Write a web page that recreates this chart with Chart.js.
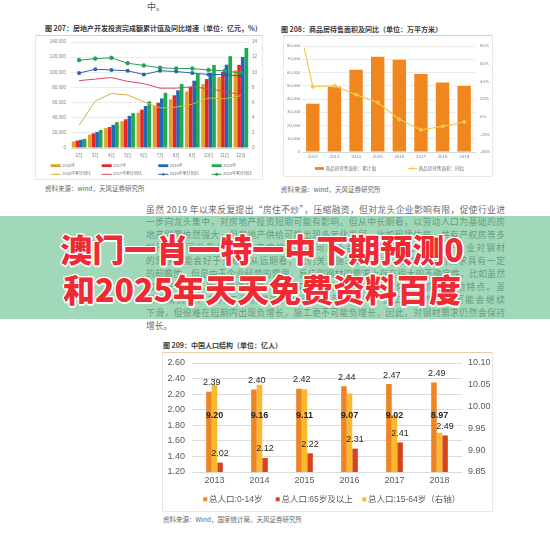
<!DOCTYPE html>
<html>
<head>
<meta charset="utf-8">
<script src="https://cdn.jsdelivr.net/npm/chart.js@4.4.1/dist/chart.umd.min.js"></script>
<style>
html, body { margin: 0; padding: 0; background: #fff; }
#page { position: relative; width: 550px; height: 536px; overflow: hidden; font-family: "Noto Sans CJK SC", sans-serif; color: #555; }
.abs { position: absolute; white-space: nowrap; }
.title { font-size: 7px; line-height: 8px; font-weight: bold; color: #3a3a3a; }
.src { font-size: 6.5px; line-height: 8px; color: #666; }
.frame { position: absolute; box-sizing: border-box; border: 1px solid #ece6dc; border-top: 1.5px solid #e8cfa6; }
.para { position: absolute; left: 146px; width: 359px; font-size: 8.8px; line-height: 12.9px; height: 12.9px; color: #6a6a6a; white-space: nowrap; }
#banner { position: absolute; left: 0; top: 216px; width: 550px; height: 103px; background: rgba(100, 190, 140, 0.6); }
.big { position: absolute; left: 0; width: 524px; text-align: center; font-size: 32px; line-height: 40px; font-weight: 900; color: #ef2a33; white-space: nowrap;
  text-shadow: 1px 1px 0 #fff, -1px -1px 0 #fff, 1px -1px 0 #fff, -1px 1px 0 #fff, 0 1.5px 0 #fff, 0 -1.5px 0 #fff, 1.5px 0 0 #fff, -1.5px 0 0 #fff; }
canvas { position: absolute; }
</style>
</head>
<body>
<div id="page">
  <div class="abs" style="left:147px;top:1px;font-size:9px;line-height:12px;color:#555;">中。</div>

  <div class="abs title" style="left:45px;top:24px;">图 207：房地产开发投资完成额累计值及同比增速（单位：亿元，%）</div>
  <div class="frame" style="left:35px;top:35px;width:228px;height:145px;"></div>
  <canvas id="c207" width="228" height="144" style="left:35px;top:36px;"></canvas>
  <div class="abs src" style="left:45px;top:184px;">资料来源：wind，天风证券研究所</div>

  <div class="abs title" style="left:281px;top:25px;">图 208：商品房待售面积及同比（单位：万平方米）</div>
  <div class="frame" style="left:283px;top:35px;width:210px;height:142px;"></div>
  <canvas id="c208" width="210" height="142" style="left:283px;top:36px;"></canvas>
  <div class="abs src" style="left:281px;top:185px;">资料来源：wind，天风证券研究所</div>

  <div class="para fit" style="top:203.5px;"><span>虽然 2019 年以来反复提出“房住不炒”，压缩融资，但对龙头企业影响有限，促使行业进</span></div>
  <div class="para fit" style="top:216.4px;"><span>一步向龙头集中，对房地产投资短期可能有影响。但从中长期看，以劳动人口为基础的房</span></div>
  <div class="para fit" style="top:229.3px;"><span>地产刚需依然强大，但房地产供给可能出现多元化发展，比如租赁住房、共有产权房等多</span></div>
  <div class="para fit" style="top:242.2px;"><span>样形式，因此我们认为未来房地产投资可能不会出现大幅下滑，房地产行业对钢材</span></div>
  <div class="para fit" style="top:255.1px;"><span>的需求可能会好于预期。从远期看，我们关注施工数据，施工数据对钢材需求具有一定</span></div>
  <div class="para fit" style="top:268px;"><span>的前瞻性，但是由于企业经营的需要，反应到钢材的需求上存在很大的不确定性。比如虽然</span></div>
  <div class="para fit" style="top:280.9px;"><span>房地产新开工面积增速较快，但施工面积增速相对平稳，体现出房企拿地特点。虽</span></div>
  <div class="para fit" style="top:293.8px;"><span>然未来房地产新开工面积增速将会逐步回落，房地产施工面积增速也可能会继续</span></div>
  <div class="para fit" style="top:306.7px;"><span>下滑，但很难在短期内出现负增长，施工更不可能负增长，因此，对钢材需求仍然会保持</span></div>
  <div class="para" style="top:319.6px;"><span>增长。</span></div>

  <div id="banner"></div>
  <div class="big" style="top:228px;">澳门一肖一特一中下期预测0</div>
  <div class="big" style="top:268px;">和2025年天天免费资料百度</div>

  <div class="abs title" style="left:163px;top:341px;">图 209：中国人口结构（单位：亿人）</div>
  <div class="frame" style="left:162px;top:352px;width:331px;height:160px;"></div>
  <canvas id="c209" width="331" height="159" style="left:162px;top:353px;"></canvas>
  <div class="abs src" style="left:163px;top:515px;">资料来源：Wind，国家统计局，天风证券研究所</div>
</div>

<script>
const FONT = "'Liberation Sans', 'Noto Sans CJK SC', sans-serif";

// 图207
const months = ["2月", "3月", "4月", "5月", "6月", "7月", "8月", "9月", "10月", "11月", "12月"];
const invest2016 = [8629, 17677, 26249, 35429, 46631, 55424, 64348, 74598, 84353, 93669, 102581];
const invest2017 = [9854, 19292, 27732, 37950, 50610, 59761, 69694, 80644, 91069, 100387, 109799];
const invest2018 = [10873, 21291, 30592, 42393, 55531, 65490, 76169, 88948, 99325, 110083, 120264];
const invest2019 = [12090, 23803, 34217, 46075, 61609, 72843, 84589, 98008, 109603, 121265, 132194];
const yoy2016 = [3.0, 6.2, 7.2, 7.0, 6.1, 5.3, 5.4, 5.8, 6.6, 6.5, 6.9];
const yoy2017 = [8.9, 9.1, 9.3, 8.8, 8.5, 7.9, 7.9, 8.1, 7.8, 7.5, 7.0];
const yoy2018 = [9.9, 10.4, 10.3, 10.2, 9.7, 10.2, 10.1, 9.9, 9.7, 9.7, 9.5];
const yoy2019 = [11.6, 11.8, 11.9, 11.2, 10.9, 10.6, 10.5, 10.5, 10.3, 10.2, 9.9];

// 图208
const years208 = ["2012", "2013", "2014", "2015", "2016", "2017", "2018", "2019"];
const unsoldArea = [36460, 49295, 62169, 71853, 69539, 58923, 52414, 49821];
const unsoldYoyPos = [-0.4, 0, 1, 2, 3, 4, 5, 6, 7];
const unsoldYoy = [78, 34, 35, 25, 16, -3, -15, -11, -6];

// 图209
const years209 = ["2013", "2014", "2015", "2016", "2017", "2018"];
const age0to14 = [2.23, 2.26, 2.27, 2.30, 2.33, 2.35];
const age15to64 = [10.05, 10.05, 10.04, 10.03, 9.98, 9.94];
const age65plus = [1.32, 1.38, 1.44, 1.50, 1.58, 1.67];
const topLabels = ["2.39", "2.40", "2.42", "2.44", "2.47", "2.49"];
const midLabels = ["9.20", "9.16", "9.11", "9.07", "9.02", "8.97"];
const lowLabels = ["2.02", "2.12", "2.22", "2.31", "2.41", "2.49"];

// stretch each body line so it fills the text column, like the justified page
document.querySelectorAll(".para.fit").forEach(function(el) {
	let span = el.firstElementChild;
	let w = span.getBoundingClientRect().width;
	let n = span.textContent.length;
	span.style.letterSpacing = ((el.clientWidth - w) / (n - 1)) + "px";
});

Chart.defaults.font.family = FONT;
Chart.defaults.animation = false;

function fitBox(size) {
	return function(scale) {
		if(scale.isHorizontal())
			scale.height = size;
		else
			scale.width = size;
		scale.paddingTop = 0;
		scale.paddingBottom = 0;
		scale.paddingLeft = 0;
		scale.paddingRight = 0;
	}
}

const gridLegend = {
	id: "gridLegend",
	afterDraw(chart, args, opts) {
		let ctx = chart.ctx;
		ctx.save();
		ctx.font = opts.fontSize + "px " + FONT;
		ctx.textBaseline = "middle";
		ctx.textAlign = "left";
		opts.order.forEach(function(idx, i) {
			let ds = chart.data.datasets[idx];
			let x = opts.cols[i % opts.cols.length];
			let y = opts.rows[Math.floor(i / opts.cols.length)];
			if(ds.type == "line") {
				ctx.strokeStyle = ds.borderColor;
				ctx.lineWidth = 1;
				ctx.beginPath();
				ctx.moveTo(x, y);
				ctx.lineTo(x + opts.boxW, y);
				ctx.stroke();
				if(ds.pointStyle) {
					ctx.fillStyle = ds.borderColor;
					Chart.helpers.drawPoint(ctx, {pointStyle: ds.pointStyle, radius: opts.marker, rotation: 0, borderWidth: 0}, x + opts.boxW / 2, y);
				}
			} else {
				ctx.fillStyle = ds.backgroundColor;
				ctx.fillRect(x, y - opts.boxH / 2, opts.boxW, opts.boxH);
			}
			ctx.fillStyle = opts.color;
			ctx.fillText(ds.label, x + opts.boxW + opts.gap, y);
		});
		ctx.restore();
	}
};

const barLabels = {
	id: "barLabels",
	afterDatasetsDraw(chart) {
		let ctx = chart.ctx;
		let orange = chart.getDatasetMeta(0).data;
		let yellow = chart.getDatasetMeta(1).data;
		let red = chart.getDatasetMeta(2).data;
		let midY = chart.scales.y.getPixelForValue(1.92);
		ctx.save();
		ctx.fillStyle = "#262626";
		ctx.textAlign = "center";
		ctx.textBaseline = "middle";
		for(let i=0; i<years209.length; i++) {
			ctx.font = "9px " + FONT;
			ctx.fillText(topLabels[i], yellow[i].x - yellow[i].width / 2, orange[i].y - 9);
			ctx.fillText(lowLabels[i], red[i].x, red[i].y - 9);
			ctx.font = "bold 9px " + FONT;
			ctx.fillText(midLabels[i], yellow[i].x, midY);
		}
		ctx.restore();
	}
};

let smallTicks = function(size, pad) {
	return {font: {size: size}, color: "#808080", padding: pad, maxRotation: 0, autoSkip: false};
}

new Chart(document.getElementById("c207"), {
	type: "bar",
	data: {
		labels: months,
		datasets: [
			{label: "2016年", data: invest2016, backgroundColor: "#e0a224", yAxisID: "y", order: 1},
			{label: "2017年", data: invest2017, backgroundColor: "#e3262b", yAxisID: "y", order: 1},
			{label: "2018年", data: invest2018, backgroundColor: "#1d6ab8", yAxisID: "y", order: 1},
			{label: "2019年", data: invest2019, backgroundColor: "#1faa4f", yAxisID: "y", order: 1},
			{type: "line", label: "2016年累计同比", data: yoy2016, borderColor: "#cdb53f", borderWidth: 1, pointRadius: 0, yAxisID: "y1", order: 0},
			{type: "line", label: "2017年累计同比", data: yoy2017, borderColor: "#d9485a", borderWidth: 1, pointRadius: 0, yAxisID: "y1", order: 0},
			{type: "line", label: "2018年累计同比", data: yoy2018, borderColor: "#2a62ad", backgroundColor: "#2a62ad", borderWidth: 1, pointStyle: "rect", pointRadius: 1.8, yAxisID: "y1", order: 0},
			{type: "line", label: "2019年累计同比", data: yoy2019, borderColor: "#27a05a", backgroundColor: "#27a05a", borderWidth: 1, pointStyle: "circle", pointRadius: 1.8, yAxisID: "y1", order: 0}
		]
	},
	options: {
		responsive: false,
		layout: {padding: {top: 6, left: 0, right: 0, bottom: 0}},
		datasets: {bar: {categoryPercentage: 0.9, barPercentage: 1.0}},
		plugins: {
			legend: {display: false},
			tooltip: {enabled: false},
			gridLegend: {order: [0, 1, 2, 3, 4, 5, 6, 7], cols: [15.7, 66.7, 123.3, 176.7], rows: [129.7, 138.3], boxW: 10, boxH: 2.8, gap: 1.5, marker: 1.5, fontSize: 4, color: "#707070"}
		},
		scales: {
			x: {grid: {display: false, drawTicks: false}, border: {color: "#d9d9d9"}, ticks: smallTicks(4.5, 5), afterFit: fitBox(32)},
			y: {position: "left", min: 0, max: 140000, ticks: Object.assign(smallTicks(4.5, 5), {stepSize: 20000}), grid: {color: "#ebebeb", drawTicks: false}, border: {display: false}, afterFit: fitBox(36)},
			y1: {position: "right", min: 0, max: 14, ticks: Object.assign(smallTicks(4.5, 3), {stepSize: 2}), grid: {display: false, drawTicks: false}, border: {display: false}, afterFit: fitBox(14)}
		}
	},
	plugins: [gridLegend]
});

// bars and line share one linear x axis so the line can start at the left edge
new Chart(document.getElementById("c208"), {
	type: "bar",
	data: {
		datasets: [
			{label: "商品房待售面积：累计值", data: unsoldArea.map(function(v, i) { return {x: i, y: v}; }), backgroundColor: "#f0861e", yAxisID: "y", order: 1},
			{type: "line", label: "商品房待售面积：同比", data: unsoldYoyPos.map(function(p, i) { return {x: p, y: unsoldYoy[i]}; }),
				yAxisID: "y1", borderColor: "#f4c84a", backgroundColor: "#f4c84a", borderWidth: 1.2,
				pointStyle: "rectRot", pointRadius: function(c) { return c.dataIndex == 0 ? 0 : 1.6; }, order: 0}
		]
	},
	options: {
		responsive: false,
		layout: {padding: {top: 10, left: 0, right: 0, bottom: 0}},
		datasets: {bar: {categoryPercentage: 1.0, barPercentage: 0.62}},
		plugins: {
			legend: {display: false},
			tooltip: {enabled: false},
			gridLegend: {order: [0, 1], cols: [32, 125], rows: [132.5], boxW: 9, boxH: 2.8, gap: 1.5, marker: 1.6, fontSize: 4.6, color: "#707070"}
		},
		scales: {
			x: {type: "linear", offset: false, min: -0.5, max: 7.5,
				afterBuildTicks: function(scale) { scale.ticks = years208.map(function(y, i) { return {value: i}; }); },
				grid: {display: false, drawTicks: false}, border: {color: "#d9d9d9"},
				ticks: Object.assign(smallTicks(4.4, 2.5), {callback: function(v) { return years208[v]; }}), afterFit: fitBox(26)},
			y: {position: "left", min: 0, max: 80000, ticks: Object.assign(smallTicks(4.4, 1.5), {stepSize: 10000, callback: function(v) { return v.toLocaleString("en-US"); }}), grid: {color: "#ebebeb", drawTicks: false}, border: {display: false}, afterFit: fitBox(19)},
			y1: {position: "right", min: -40, max: 80, ticks: Object.assign(smallTicks(4.4, 5), {stepSize: 20, callback: function(v) { return v + "%"; }}), grid: {display: false, drawTicks: false}, border: {display: false}, afterFit: fitBox(18)}
		}
	},
	plugins: [gridLegend]
});

let axisTicks = function(pad) {
	return {font: {size: 9}, color: "#595959", padding: pad, maxRotation: 0, autoSkip: false};
}

new Chart(document.getElementById("c209"), {
	type: "bar",
	data: {
		labels: years209,
		datasets: [
			{label: "总人口:0-14岁", data: age0to14, backgroundColor: "#ef8422", yAxisID: "y"},
			{label: "总人口:15-64岁（右轴）", data: age15to64, backgroundColor: "#fbb92d", yAxisID: "y1"},
			{label: "总人口:65岁及以上", data: age65plus, backgroundColor: "#d6431e", yAxisID: "y"}
		]
	},
	options: {
		responsive: false,
		layout: {padding: {top: 10, left: 0, right: 0, bottom: 0}},
		datasets: {bar: {categoryPercentage: 0.37, barPercentage: 1.0}},
		plugins: {
			legend: {display: false},
			tooltip: {enabled: false},
			gridLegend: {order: [0, 2, 1], cols: [41.3, 113.7, 200.3], rows: [146.3], boxW: 4, boxH: 4, gap: 1.8, marker: 0, fontSize: 8.5, color: "#595959"}
		},
		scales: {
			x: {grid: {display: false, drawTicks: false}, border: {display: false}, ticks: axisTicks(3.5), afterFit: fitBox(40)},
			y: {position: "left", min: 1.2, max: 2.6, ticks: Object.assign(axisTicks(7), {stepSize: 0.2, callback: function(v) { return v.toFixed(2); }}), grid: {color: "#dcdcdc", drawTicks: false}, border: {display: false}, afterFit: fitBox(30)},
			y1: {position: "right", min: 9.85, max: 10.10, ticks: Object.assign(axisTicks(6), {stepSize: 0.05, callback: function(v) { return v.toFixed(2); }}), grid: {display: false, drawTicks: false}, border: {display: false}, afterFit: fitBox(31)}
		}
	},
	plugins: [gridLegend, barLabels]
});
</script>
</body>
</html>
